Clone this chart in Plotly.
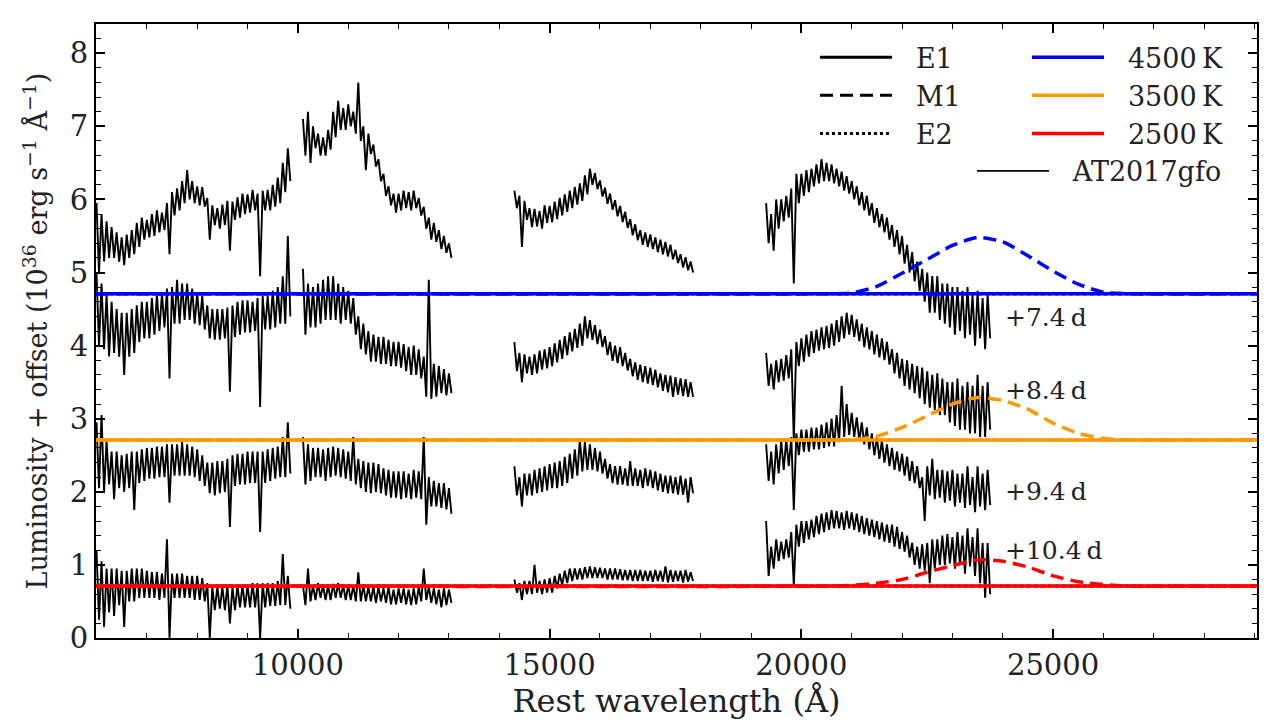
import plotly.graph_objects as go

# ---------------- data ----------------
# Spectral segments of AT2017gfo (rest wavelength, Angstrom). For each 100 A bin the
# upper (hi) and lower (lo) edge of the noisy spectrum band are read off the picture.
seg_start = [6000, 10100, 14300, 19300]
seg_end = [9800, 13000, 17800, 23700]
seg_step = 100

# +7.4 d
s74_hi = [
    [5.95, 5.8, 5.7, 5.62, 5.55, 5.48, 5.52, 5.58, 5.68, 5.75, 5.72, 5.8, 5.85, 5.82, 5.95, 6.1, 6.15, 6.25, 6.4, 6.25,
     6.18, 6.17, 6.02, 5.92, 5.88, 5.93, 5.98, 5.97, 6.03, 6.08, 6.07, 6.13, 6.08, 6.12, 6.13, 6.2, 6.3, 6.5, 6.7],
    [7.1, 7.2, 7.0, 6.9, 6.85, 6.95, 7.2, 7.35, 7.25, 7.3, 7.2, 7.6, 7.0, 6.9, 6.75, 6.55, 6.35, 6.18, 6.08, 6.08,
     6.12, 6.1, 6.12, 6.02, 5.9, 5.75, 5.68, 5.58, 5.5, 5.4],
    [6.12, 6.05, 5.98, 5.88, 5.87, 5.84, 5.92, 5.91, 5.97, 6.02, 6.07, 6.12, 6.17, 6.22, 6.33, 6.42, 6.36, 6.26, 6.16,
     6.08, 5.99, 5.91, 5.83, 5.73, 5.66, 5.58, 5.55, 5.52, 5.48, 5.45, 5.42, 5.38, 5.31, 5.25, 5.21, 5.15],
    [5.95, 5.8, 6.0, 6.0, 6.05, 6.15, 6.35, 6.35, 6.4, 6.42, 6.48, 6.55, 6.5, 6.48, 6.42, 6.38, 6.32, 6.25, 6.18, 6.1,
     6.05, 5.95, 5.88, 5.8, 5.75, 5.65, 5.58, 5.5, 5.38, 5.28, 5.15, 5.05, 5.0, 4.95, 4.95, 4.85, 4.85, 4.8, 4.8, 4.75,
     4.8, 4.7, 4.75, 4.65, 4.7],
]
s74_lo = [
    [5.0, 5.15, 5.2, 5.2, 5.15, 5.1, 5.2, 5.25, 5.35, 5.45, 5.48, 5.5, 5.55, 5.58, 5.25, 5.78, 5.85, 5.95, 6.0, 5.95,
     5.92, 5.9, 5.45, 5.65, 5.6, 5.65, 5.3, 5.72, 5.75, 5.8, 5.82, 5.85, 4.95, 5.85, 5.85, 5.9, 5.95, 6.1, 6.25],
    [6.6, 6.5, 6.7, 6.6, 6.6, 6.68, 6.85, 6.95, 6.95, 7.0, 6.9, 6.8, 6.4, 6.62, 6.45, 6.25, 6.05, 5.92, 5.82, 5.85,
     5.88, 5.85, 5.88, 5.78, 5.6, 5.45, 5.42, 5.32, 5.27, 5.2],
    [5.88, 5.35, 5.72, 5.62, 5.63, 5.6, 5.68, 5.69, 5.73, 5.78, 5.83, 5.88, 5.93, 5.98, 6.07, 6.2, 6.14, 6.04, 5.94,
     5.86, 5.77, 5.69, 5.61, 5.51, 5.44, 5.38, 5.35, 5.32, 5.28, 5.25, 5.22, 5.18, 5.13, 5.07, 5.03, 5.0],
    [5.4, 5.3, 5.6, 5.7, 5.75, 4.85, 5.95, 6.05, 6.1, 6.18, 6.22, 6.25, 6.25, 6.22, 6.18, 6.12, 6.08, 6.0, 5.92, 5.85,
     5.78, 5.68, 5.62, 5.55, 5.45, 5.35, 5.25, 5.12, 5.0, 4.88, 4.75, 4.6, 4.45, 4.45, 4.35, 4.3, 4.25, 4.15, 4.2, 4.1,
     4.15, 4.0, 4.1, 3.95, 4.1],
]

# +8.4 d
s84_hi = [
    [5.0, 4.85, 4.7, 4.6, 4.5, 4.45, 4.45, 4.5, 4.55, 4.6, 4.6, 4.65, 4.7, 4.72, 4.78, 4.8, 4.9, 4.85, 4.85, 4.78,
     4.72, 4.68, 4.55, 4.5, 4.5, 4.5, 4.52, 4.55, 4.6, 4.62, 4.62, 4.6, 4.65, 4.68, 4.68, 4.75, 4.8, 4.95, 5.5],
    [5.05, 4.85, 4.8, 4.85, 4.9, 4.95, 4.95, 4.85, 4.8, 4.75, 4.65, 4.4, 4.3, 4.2, 4.15, 4.12, 4.12, 4.08, 4.05, 4.05,
     4.02, 3.98, 4.0, 3.95, 3.85, 4.9, 3.75, 3.72, 3.68, 3.62],
    [4.05, 3.9, 3.88, 3.85, 3.88, 3.93, 3.95, 3.98, 4.03, 4.08, 4.13, 4.18, 4.23, 4.3, 4.4, 4.35, 4.28, 4.22, 4.13,
     4.05, 4.0, 3.98, 3.9, 3.82, 3.77, 3.74, 3.72, 3.7, 3.67, 3.62, 3.6, 3.59, 3.57, 3.55, 3.54, 3.5],
    [3.9, 3.75, 3.8, 3.82, 3.87, 3.95, 4.05, 4.1, 4.15, 4.2, 4.22, 4.25, 4.27, 4.3, 4.35, 4.4, 4.45, 4.42, 4.36, 4.3,
     4.25, 4.2, 4.15, 4.1, 4.05, 3.95, 3.9, 3.82, 3.8, 3.75, 3.72, 3.7, 3.65, 3.6, 3.62, 3.55, 3.5, 3.5, 3.55, 3.45,
     3.5, 3.45, 3.6, 3.45, 3.5],
]
s84_lo = [
    [4.0, 3.95, 3.85, 3.9, 3.85, 3.6, 3.85, 3.9, 4.05, 4.1, 4.1, 4.15, 4.2, 4.25, 3.55, 4.3, 4.3, 4.35, 4.35, 4.3,
     4.28, 4.22, 4.1, 4.08, 4.08, 4.1, 3.37, 4.12, 4.15, 4.18, 4.18, 4.2, 3.16, 4.22, 4.22, 4.25, 4.3, 4.3, 4.4],
    [4.15, 4.25, 4.25, 4.3, 4.35, 4.35, 4.35, 4.3, 4.35, 4.3, 4.15, 3.95, 3.88, 3.78, 3.78, 3.75, 3.75, 3.72, 3.72,
     3.7, 3.65, 3.6, 3.6, 3.55, 3.3, 3.27, 3.3, 3.35, 3.32, 3.35],
    [3.65, 3.5, 3.62, 3.6, 3.62, 3.67, 3.69, 3.72, 3.77, 3.82, 3.87, 3.92, 3.97, 4.0, 4.1, 4.08, 4.02, 3.98, 3.87,
     3.79, 3.76, 3.72, 3.66, 3.58, 3.53, 3.5, 3.48, 3.46, 3.43, 3.38, 3.36, 3.3, 3.33, 3.31, 3.3, 3.3],
    [3.45, 3.4, 3.5, 3.52, 3.55, 2.7, 3.72, 3.78, 3.85, 3.9, 3.93, 3.95, 3.97, 4.0, 4.05, 4.1, 4.15, 4.12, 4.06, 3.98,
     3.95, 3.88, 3.84, 3.8, 3.74, 3.62, 3.55, 3.45, 3.4, 3.35, 3.28, 3.2, 3.15, 3.12, 3.05, 3.05, 2.95, 2.9, 2.85,
     2.85, 2.8, 2.8, 2.75, 2.75, 2.85],
]

# +9.4 d
s94_hi = [
    [2.95, 3.05, 2.7, 2.55, 2.55, 2.5, 2.52, 2.55, 2.55, 2.58, 2.6, 2.6, 2.62, 2.62, 2.65, 2.65, 2.65, 2.68, 2.65,
     2.62, 2.58, 2.5, 2.4, 2.4, 2.42, 2.42, 2.45, 2.5, 2.52, 2.52, 2.55, 2.55, 2.55, 2.55, 2.58, 2.6, 2.62, 2.75, 2.95],
    [2.75, 2.65, 2.6, 2.6, 2.58, 2.6, 2.62, 2.6, 2.58, 2.55, 2.75, 2.45, 2.42, 2.4, 2.4, 2.38, 2.32, 2.3, 2.28, 2.28,
     2.28, 2.25, 2.3, 2.28, 2.75, 2.2, 2.15, 2.12, 2.12, 2.05],
    [2.35, 2.2, 2.25, 2.25, 2.3, 2.32, 2.35, 2.38, 2.4, 2.42, 2.48, 2.52, 2.58, 2.72, 2.68, 2.65, 2.6, 2.55, 2.45,
     2.38, 2.35, 2.35, 2.32, 2.42, 2.32, 2.3, 2.32, 2.3, 2.28, 2.25, 2.22, 2.22, 2.2, 2.22, 2.18, 2.2],
    [2.65, 2.55, 2.65, 2.7, 2.72, 2.75, 2.8, 2.85, 2.85, 2.88, 2.88, 2.92, 2.95, 3.0, 3.05, 3.45, 3.2, 3.08, 3.02,
     2.95, 2.88, 2.8, 2.75, 2.7, 2.65, 2.6, 2.55, 2.52, 2.48, 2.42, 2.35, 2.2, 2.35, 2.45, 2.3, 2.3, 2.28, 2.3, 2.25,
     2.25, 2.35, 2.2, 2.35, 2.25, 2.3],
]
s94_lo = [
    [2.05, 2.0, 2.1, 1.9, 2.05, 2.0, 2.05, 1.75, 2.12, 2.15, 2.18, 2.18, 2.2, 2.2, 1.85, 2.22, 2.22, 2.22, 2.22, 2.2,
     2.15, 2.08, 1.98, 1.95, 1.98, 2.0, 1.52, 2.08, 2.1, 2.1, 2.12, 2.12, 1.45, 2.12, 2.15, 2.18, 2.2, 2.2, 2.25],
    [2.1, 2.15, 2.2, 2.2, 2.15, 2.2, 2.22, 2.2, 2.18, 2.15, 2.1, 2.05, 2.0, 1.98, 2.0, 1.98, 1.95, 1.92, 1.92, 1.9,
     1.92, 1.9, 1.92, 1.9, 1.55, 1.8, 1.8, 1.78, 1.76, 1.7],
    [1.95, 1.8, 1.95, 1.95, 1.98, 2.0, 2.02, 2.05, 2.05, 2.08, 2.12, 2.18, 2.22, 2.28, 2.3, 2.3, 2.28, 2.25, 2.18,
     2.12, 2.1, 2.1, 2.08, 2.08, 2.08, 2.05, 2.08, 2.05, 2.02, 2.0, 1.98, 1.98, 1.96, 1.96, 1.85, 1.98],
    [2.15, 2.1, 2.25, 2.3, 2.35, 1.75, 2.5, 2.55, 2.55, 2.58, 2.58, 2.6, 2.62, 2.62, 2.68, 2.75, 2.78, 2.75, 2.7,
     2.65, 2.58, 2.5, 2.45, 2.4, 2.35, 2.3, 2.28, 2.22, 2.15, 2.12, 2.05, 1.6, 1.95, 1.9, 1.92, 1.85, 1.88, 1.8, 1.85,
     1.78, 1.82, 1.72, 1.8, 1.75, 1.82],
]

# +10.4 d
s104_hi = [
    [1.2, 1.05, 0.95, 0.95, 0.95, 0.92, 0.92, 0.95, 0.95, 0.95, 0.92, 0.9, 0.9, 0.88, 1.35, 0.88, 0.88, 0.88, 0.85,
     0.85, 0.85, 0.82, 0.75, 0.7, 0.7, 0.7, 0.72, 0.7, 0.72, 0.72, 0.72, 0.75, 0.75, 0.75, 0.75, 0.75, 0.78, 1.15, 0.85],
    [0.72, 0.95, 0.72, 0.75, 0.72, 0.72, 0.74, 0.75, 0.72, 0.72, 0.72, 0.9, 0.72, 0.7, 0.7, 0.7, 0.68, 0.7, 0.66,
     0.68, 0.68, 0.66, 0.68, 0.7, 0.95, 0.7, 0.68, 0.66, 0.68, 0.66],
    [0.8, 0.75, 0.78, 0.78, 1.0, 0.78, 0.8, 0.82, 0.85, 0.88, 0.92, 0.95, 0.95, 0.95, 0.97, 0.98, 0.97, 0.96, 0.95,
     0.95, 0.95, 0.94, 0.93, 0.93, 0.93, 0.93, 0.92, 0.92, 0.93, 0.92, 0.98, 0.93, 0.92, 0.92, 0.93, 0.9],
    [1.6, 1.25, 1.35, 1.32, 1.35, 1.45, 1.55, 1.6, 1.6, 1.62, 1.67, 1.7, 1.72, 1.75, 1.74, 1.72, 1.74, 1.72, 1.7,
     1.67, 1.64, 1.62, 1.6, 1.58, 1.55, 1.55, 1.52, 1.45, 1.4, 1.3, 1.25, 1.28, 1.3, 1.35, 1.35, 1.4, 1.42, 1.38,
     1.45, 1.4, 1.5, 1.38, 1.5, 1.3, 1.3],
]
s104_lo = [
    [0.25, 0.15, 0.35, 0.3, 0.45, 0.15, 0.5, 0.5, 0.55, 0.55, 0.55, 0.55, 0.52, 0.55, 0.0, 0.55, 0.55, 0.55, 0.55,
     0.52, 0.52, 0.5, 0.0, 0.38, 0.4, 0.38, 0.2, 0.38, 0.42, 0.42, 0.42, 0.42, 0.0, 0.42, 0.44, 0.44, 0.45, 0.45, 0.4],
    [0.45, 0.5, 0.52, 0.55, 0.52, 0.52, 0.55, 0.55, 0.52, 0.52, 0.5, 0.5, 0.5, 0.5, 0.48, 0.5, 0.48, 0.46, 0.46,
     0.48, 0.46, 0.45, 0.46, 0.5, 0.52, 0.48, 0.46, 0.42, 0.45, 0.48],
    [0.62, 0.52, 0.6, 0.6, 0.62, 0.6, 0.62, 0.62, 0.68, 0.72, 0.75, 0.78, 0.8, 0.8, 0.82, 0.82, 0.82, 0.82, 0.8, 0.8,
     0.8, 0.79, 0.79, 0.78, 0.78, 0.78, 0.78, 0.77, 0.78, 0.77, 0.76, 0.77, 0.78, 0.76, 0.77, 0.78],
    [0.85, 0.95, 1.05, 1.08, 1.1, 0.72, 1.25, 1.3, 1.35, 1.38, 1.42, 1.45, 1.48, 1.5, 1.5, 1.48, 1.5, 1.48, 1.45,
     1.42, 1.4, 1.38, 1.35, 1.32, 1.3, 1.25, 1.22, 1.18, 1.1, 1.0, 0.95, 0.92, 0.75, 0.95, 1.0, 1.0, 1.02, 0.95, 1.0,
     0.88, 0.98, 0.85, 0.75, 0.55, 0.6],
]

epochs = ["+7.4\u2009d", "+8.4\u2009d", "+9.4\u2009d", "+10.4\u2009d"]
epoch_label_x = [24000, 24000, 24000, 24000]
epoch_label_y = [4.38, 3.39, 2.0, 1.2]

# model curves
temps = ["4500\u2009K", "3500\u2009K", "2500\u2009K"]
colors = ["#0000ff", "#ff9900", "#ff0000"]
flat_wl = [5990, 29050]
e1_vals = [[4.71, 4.71], [2.71, 2.71], [0.71, 0.71]]
e2_vals = [[4.71, 4.71], [2.71, 2.71], [0.71, 0.71]]
m1_wl = [5990, 20500, 21000, 21500, 22000, 22500, 23000, 23500, 24000, 24500, 25000, 25500, 26000, 26500, 29050]
m1_4500 = [4.71, 4.71, 4.72, 4.81, 4.99, 5.18, 5.37, 5.48, 5.42, 5.23, 5.02, 4.84, 4.73, 4.71, 4.71]
m1_3500 = [2.71, 2.71, 2.71, 2.76, 2.88, 3.04, 3.20, 3.29, 3.25, 3.13, 2.94, 2.80, 2.73, 2.71, 2.71]
m1_2500 = [0.71, 0.71, 0.72, 0.75, 0.80, 0.90, 0.99, 1.07, 1.05, 0.97, 0.85, 0.77, 0.73, 0.71, 0.71]
m1_vals = [m1_4500, m1_3500, m1_2500]

# ---------------- figure ----------------
FONT = "DejaVu Serif"
TXT = "#222222"


def build(hi_segs, lo_segs):
    """Trace the noisy band: upper edge at the bin start, lower edge half a bin later."""
    xs, ys = [], []
    for a, b, hi, lo in zip(seg_start, seg_end, hi_segs, lo_segs):
        wl = list(range(a, b + 1, seg_step))
        assert len(wl) == len(hi) == len(lo), (a, len(wl), len(hi), len(lo))
        for w, h, l in zip(wl, hi, lo):
            xs += [w, w + seg_step // 2]
            ys += [h, l]
        xs.append(None)
        ys.append(None)
    return xs, ys


spectra = [(s74_hi, s74_lo), (s84_hi, s84_lo), (s94_hi, s94_lo), (s104_hi, s104_lo)]

fig = go.Figure()
for i, (hi, lo) in enumerate(spectra):
    xs, ys = build(hi, lo)
    fig.add_trace(go.Scatter(x=xs, y=ys, mode="lines", line=dict(color="black", width=1.9),
                             name="\u2002\u2009AT2017gfo", legend="legend3", showlegend=(i == 0),
                             connectgaps=False, hoverinfo="skip"))

# legend proxies for the model styles
for nm, dsh in [("E1", "solid"), ("M1", "13px,7px"), ("E2", "dot")]:
    fig.add_trace(go.Scatter(x=[None], y=[None], mode="lines", line=dict(color="black", width=3, dash=dsh),
                             name="\u2002\u2009" + nm, legend="legend"))

for k in range(3):
    fig.add_trace(go.Scatter(x=flat_wl, y=e2_vals[k], mode="lines", line=dict(color=colors[k], width=3.5, dash="dot"),
                             showlegend=False, hoverinfo="skip"))
    fig.add_trace(go.Scatter(x=flat_wl, y=e1_vals[k], mode="lines", line=dict(color=colors[k], width=3.5),
                             name="\u2002\u2009" + temps[k], legend="legend2"))
    fig.add_trace(go.Scatter(x=m1_wl, y=m1_vals[k], mode="lines",
                             line=dict(color=colors[k], width=3.5, dash="13px,7px", shape="spline", smoothing=0.6),
                             showlegend=False, hoverinfo="skip"))

for lab, lx, ly in zip(epochs, epoch_label_x, epoch_label_y):
    fig.add_annotation(x=lx, y=ly, text=lab, showarrow=False, xanchor="left", yanchor="middle",
                       font=dict(family=FONT, size=25, color=TXT))

axis_common = dict(showline=True, linewidth=2, linecolor="black", mirror="allticks", showgrid=False, zeroline=False,
                   ticks="inside", ticklen=9, tickwidth=1.5, tickcolor="black", automargin=False,
                   tickfont=dict(family=FONT, size=29, color=TXT))

fig.update_xaxes(range=[5990, 29050], tick0=0, dtick=5000, tickformat="d",
                 minor=dict(ticks="inside", dtick=1000, ticklen=5, tickwidth=1.2, tickcolor="black"),
                 title=dict(text="Rest wavelength (Å)", font=dict(family=FONT, size=32, color=TXT), standoff=16),
                 **axis_common)
fig.update_yaxes(range=[0, 8.4], tick0=0, dtick=1,
                 minor=dict(ticks="inside", dtick=0.2, ticklen=5, tickwidth=1.2, tickcolor="black"),
                 title=dict(text="Luminosity + offset (10<sup>36</sup> erg s<sup>−1</sup> Å<sup>−1</sup>)",
                            font=dict(family=FONT, size=27, color=TXT), standoff=14),
                 **axis_common)

leg_common = dict(font=dict(family=FONT, size=27, color=TXT), bgcolor="rgba(0,0,0,0)", borderwidth=0,
                  itemwidth=72, xanchor="left", yanchor="top", traceorder="normal", tracegroupgap=0)
fig.update_layout(
    width=1280, height=720,
    margin=dict(l=96, r=23, t=24, b=82),
    paper_bgcolor="white", plot_bgcolor="white",
    showlegend=True,
    legend=dict(x=0.6193, y=0.985, **leg_common),
    legend2=dict(x=0.8019, y=0.985, **leg_common),
    legend3=dict(x=0.7545, y=0.80, **leg_common),
)

fig.write_html("out.html", config={"displayModeBar": False},
               post_script="document.body.style.margin='0';document.body.style.overflow='hidden';")
